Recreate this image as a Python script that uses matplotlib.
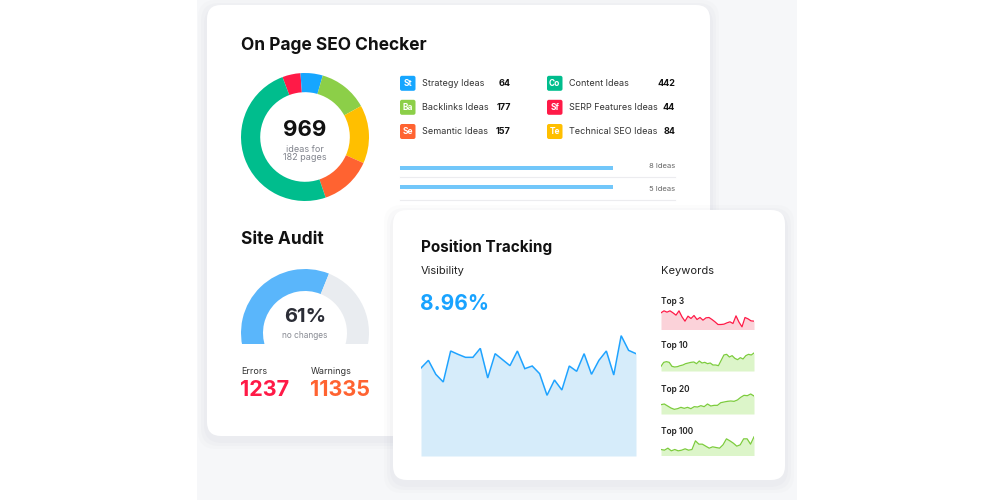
import matplotlib
matplotlib.use("Agg")
import matplotlib.pyplot as plt
from matplotlib.patches import FancyBboxPatch, Wedge, Rectangle

plt.rcParams['font.family'] = ['Inter', 'DejaVu Sans']

# donut: slice shares (clockwise from the red slice)
donut_colors = ['#ff1a47', '#16a6ff', '#8ccf48', '#ffbf00', '#ff6331', '#00bd8d']
donut_shares = [4.6, 5.6, 12.5, 14.7, 13.1, 49.5]
donut_total = 969
donut_pages = 182

# legend
legend_badges = ['St', 'Ba', 'Se', 'Co', 'Sf', 'Te']
legend_names = ['Strategy Ideas', 'Backlinks Ideas', 'Semantic Ideas',
                'Content Ideas', 'SERP Features Ideas', 'Technical SEO Ideas']
legend_values = [64, 177, 157, 442, 44, 84]
legend_colors = ['#16a6ff', '#8ccf48', '#ff6331', '#00bd8d', '#ff1a47', '#ffbf00']

# progress bars
bar_fill = [1.0, 1.0]
bar_ideas = [8, 5]

# site audit
audit_pct = 61
audit_errors = 1237
audit_warnings = 11335

# position tracking
visibility_pct = 8.96
visibility = [264, 287, 245, 222, 315, 305, 296, 296, 323, 234, 307, 289, 271, 315, 262,
              270, 247, 182, 228, 198, 270, 254, 307, 245, 287, 315, 243, 361, 317, 307]

kw_labels = ['Top 3', 'Top 10', 'Top 20', 'Top 100']
kw_top3 = [50, 56, 52, 56, 50, 43, 56, 38, 25, 40, 33, 42, 30, 36, 28, 35, 36, 30, 23, 15,
           15, 16, 20, 23, 18, 41, 22, 8, 36, 32, 26, 25]
kw_top10 = [14, 26, 28, 26, 14, 12, 13, 16, 18, 22, 24, 26, 27, 22, 30, 24, 26, 22, 24, 18,
            18, 16, 32, 48, 50, 42, 46, 38, 34, 40, 36, 46, 50, 48, 54]
kw_top20 = [28, 30, 24, 18, 14, 16, 20, 17, 20, 16, 22, 21, 25, 22, 30, 24, 26, 26, 34, 36,
            38, 39, 38, 42, 50, 56, 55, 60, 54]
kw_top100 = [18, 16, 22, 14, 18, 14, 16, 20, 16, 18, 44, 34, 34, 28, 22, 26, 24, 22, 32, 50,
             44, 37, 28, 32, 50, 50, 34, 56]
kw_series = [kw_top3, kw_top10, kw_top20, kw_top100]

W, H = 1000, 500
fig = plt.figure(figsize=(10, 5), dpi=100)
fig.patch.set_facecolor('white')


def px_axes(x0, y0, x1, y1):
    a = fig.add_axes([x0 / W, 1 - y1 / H, (x1 - x0) / W, (y1 - y0) / H])
    a.set_axis_off()
    a.patch.set_alpha(0)
    return a


bg = px_axes(0, 0, W, H)
bg.set_xlim(0, W)
bg.set_ylim(H, 0)

# grey backdrop behind the cards
bg.add_patch(Rectangle((197, 0), 600, 500, color='#f6f7f9', lw=0))


def card(x0, y0, x1, y1):
    for i, a in enumerate([0.025, 0.03, 0.035]):
        g = 9 - 3 * i
        bg.add_patch(FancyBboxPatch((x0 - g, y0 - g + 4), x1 - x0 + 2 * g, y1 - y0 + 2 * g,
                                    boxstyle="round,pad=0,rounding_size=18",
                                    fc='#8a90a0', ec='none', alpha=a))
    bg.add_patch(FancyBboxPatch((x0, y0), x1 - x0, y1 - y0,
                                boxstyle="round,pad=0,rounding_size=14",
                                fc='white', ec='none'))


card(207, 5, 710, 436)

# ---- On Page SEO Checker
bg.text(241, 45, 'On Page SEO Checker', fontsize=12.5, fontweight='bold', color='#111111',
        va='center')

dax = px_axes(241, 73, 369, 201)
dax.pie(donut_shares, colors=donut_colors, startangle=110.6, counterclock=False,
        radius=1, wedgeprops=dict(width=0.3, linewidth=0))
dax.set_xlim(-1, 1)
dax.set_ylim(-1, 1)
bg.text(305, 130, str(donut_total), fontsize=16, fontweight='bold', color='#111111',
        ha='center', va='center')
bg.text(305, 149, 'ideas for', fontsize=6.5, color='#80838c', ha='center', va='center')
bg.text(305, 158, f'{donut_pages} pages', fontsize=6.5, color='#80838c', ha='center',
        va='center')

rows_y = [83.3, 107.3, 131.5]
for i, (b, n, v, c) in enumerate(zip(legend_badges, legend_names, legend_values, legend_colors)):
    col, row = divmod(i, 3)
    bx = 400 if col == 0 else 547
    vx = 511 if col == 0 else 675
    y = rows_y[row]
    bg.add_patch(FancyBboxPatch((bx, y - 7.5), 15.5, 15, boxstyle="round,pad=0,rounding_size=2",
                                fc=c, ec='none'))
    bg.text(bx + 7.8, y, b, fontsize=6, fontweight='bold', color='white', ha='center',
            va='center')
    bg.text(bx + 22, y, n, fontsize=6.5, color='#333333', va='center')
    bg.text(vx, y, str(v), fontsize=6.5, fontweight='bold', color='#111111', ha='right',
            va='center')

bax = px_axes(400, 160, 613, 195)
bax.barh([0, 1], bar_fill, height=0.19, color='#72c7fa', left=0)
bax.set_xlim(0, 1)
bax.set_ylim(1.42, -0.42)
for y, n in zip([166, 189.3], bar_ideas):
    bg.text(675, y, f'{n} Ideas', fontsize=5.5, color='#666666', ha='right', va='center')
for y in [177, 200]:
    bg.plot([400, 675], [y, y], color='#ececef', lw=0.8)

# ---- Site Audit
bg.text(241, 239, 'Site Audit', fontsize=12.5, fontweight='bold', color='#111111', va='center')
gax = px_axes(241, 269, 369, 344)
gax.set_xlim(-64, 64)
gax.set_ylim(-11, 64)
split = 90 - (-100 + audit_pct / 100 * 200)
gax.add_patch(Wedge((0, 0), 64, split, 200, width=22, fc='#5ab6fb', ec='none'))
gax.add_patch(Wedge((0, 0), 64, -20, split, width=22, fc='#e9ecf0', ec='none'))
bg.text(305, 317, f'{audit_pct}%', fontsize=14.5, fontweight='bold', color='#2b2d36',
        ha='center', va='center')
bg.text(305, 335.5, 'no changes', fontsize=6, color='#888b93', ha='center', va='center')
bg.text(241, 371, 'Errors', fontsize=6.5, color='#333333', va='center')
bg.text(311, 371, 'Warnings', fontsize=6.5, color='#333333', va='center')
bg.text(240, 390, str(audit_errors), fontsize=15.5, fontweight='bold', color='#ff1a47',
        va='center')
bg.text(310, 390, str(audit_warnings), fontsize=15.5, fontweight='bold', color='#ff6331',
        va='center')

# ---- Position Tracking card (on top)
card(393, 210, 785, 480)
bg.text(421, 247, 'Position Tracking', fontsize=11, fontweight='bold', color='#111111',
        va='center')
bg.text(421, 271.5, 'Visibility', fontsize=8, color='#222222', va='center')
bg.text(420, 304, f'{visibility_pct}%', fontsize=15, fontweight='bold', color='#19a3ff',
        va='center')
bg.text(661, 271.5, 'Keywords', fontsize=8, color='#222222', va='center')

vax = px_axes(421, 331, 636, 456)
xs = range(len(visibility))
vax.fill_between(xs, visibility, 0, color='#d6ecfa', lw=0)
vax.plot(xs, visibility, color='#1fa3ff', lw=1.1, solid_joinstyle='miter')
vax.set_xlim(0, len(visibility) - 1)
vax.set_ylim(0, 375)

kw_base = [329.5, 371, 414, 455.5]
kw_label_y = [302, 345, 389.5, 431]
for lab, ser, base, ly in zip(kw_labels, kw_series, kw_base, kw_label_y):
    red = lab == 'Top 3'
    lc = '#ff1a47' if red else '#7ccc3c'
    fc = '#fbd2d9' if red else '#dcf5c9'
    bg.text(661, ly, lab, fontsize=6, fontweight='semibold', color='#222222', va='center')
    sax = px_axes(661, base - 22, 754, base)
    sx = range(len(ser))
    sax.fill_between(sx, ser, 0, color=fc, lw=0)
    sax.plot(sx, ser, color=lc, lw=0.9)
    sax.set_xlim(0, len(ser) - 1)
    sax.set_ylim(0, 66)

fig.savefig('out.png', dpi=100, facecolor='white')
